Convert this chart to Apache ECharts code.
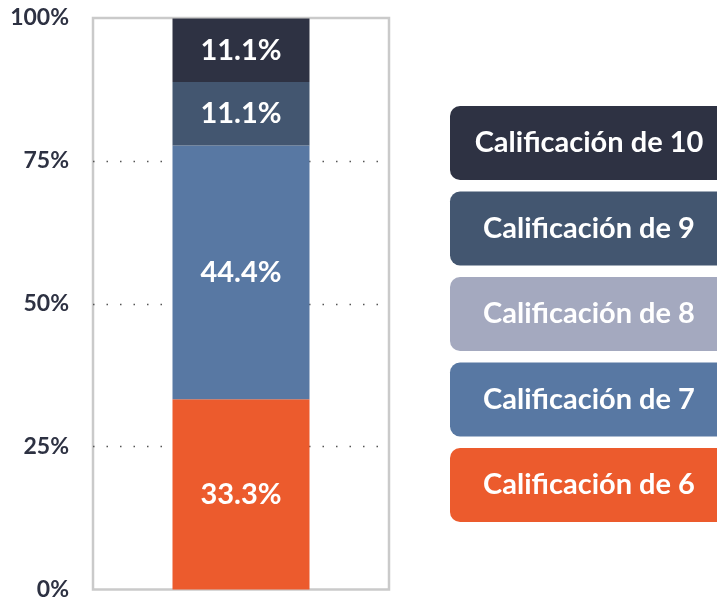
<!DOCTYPE html>
<html>
<head>
<meta charset="utf-8">
<script src="https://cdn.jsdelivr.net/npm/echarts@6/dist/echarts.min.js"></script>
<style>
  html, body { margin: 0; padding: 0; background: #fff; }
  #chart { width: 717px; height: 601px; }
</style>
</head>
<body>
<div id="chart"></div>
<script>
// datos (de abajo hacia arriba en la barra)
const grades = ['Calificación de 6', 'Calificación de 7', 'Calificación de 8', 'Calificación de 9', 'Calificación de 10'];
const shares = [33.3, 44.4, 0, 11.1, 11.1];
const colors = ['#ec5b2d', '#5878a3', '#a4a9bf', '#435670', '#2e3243'];
const yTicks = [0, 25, 50, 75, 100];

const FONT = 'Lato, "Open Sans", sans-serif';

const chart = echarts.init(document.getElementById('chart'));

// leyenda: de 10 a 6, arriba hacia abajo
const legendOrder = grades.slice().reverse();
const rich = {};
grades.forEach((g, i) => {
  rich['s' + i] = {
    width: 278,
    height: 74,
    lineHeight: 74,
    align: 'center',
    backgroundColor: colors[i],
    borderRadius: 10,
    color: '#fff',
    fontSize: 29,
    fontWeight: 'bold',
    fontFamily: FONT
  };
});

const option = {
  animation: false,
  grid: {
    left: 93,
    right: 328,
    top: 18,
    bottom: 8,
    show: true,
    borderColor: '#cacaca',
    borderWidth: 2.5,
    backgroundColor: 'transparent'
  },
  legend: {
    orient: 'vertical',
    left: 440,
    top: 101,
    itemGap: 11.5,
    itemWidth: 0,
    itemHeight: 0,
    icon: 'rect',
    selectedMode: false,
    data: legendOrder,
    formatter: name => '{s' + grades.indexOf(name) + '|' + name + '}',
    textStyle: { rich: rich }
  },
  xAxis: {
    type: 'category',
    data: [''],
    axisLine: { show: false },
    axisTick: { show: false },
    axisLabel: { show: false }
  },
  yAxis: {
    type: 'value',
    min: yTicks[0],
    max: yTicks[yTicks.length - 1],
    interval: 25,
    axisLine: { show: false },
    axisTick: { show: false },
    axisLabel: {
      formatter: '{value}%',
      margin: 24,
      color: '#2d3142',
      fontSize: 23,
      fontWeight: 'bold',
      fontFamily: FONT
    },
    splitLine: {
      show: true,
      showMinLine: false,
      showMaxLine: false,
      lineStyle: { color: '#555', width: 1.3, type: [1.5, 12] }
    }
  },
  series: grades.map((g, i) => ({
    name: g,
    type: 'bar',
    stack: 'total',
    barWidth: 137,
    data: [shares[i]],
    itemStyle: { color: colors[i] },
    label: {
      show: true,
      position: 'inside',
      color: '#fff',
      fontSize: 29,
      fontWeight: 'bold',
      fontFamily: FONT,
      formatter: p => p.value ? p.value.toFixed(1) + '%' : ''
    }
  }))
};

chart.setOption(option);
</script>
</body>
</html>
